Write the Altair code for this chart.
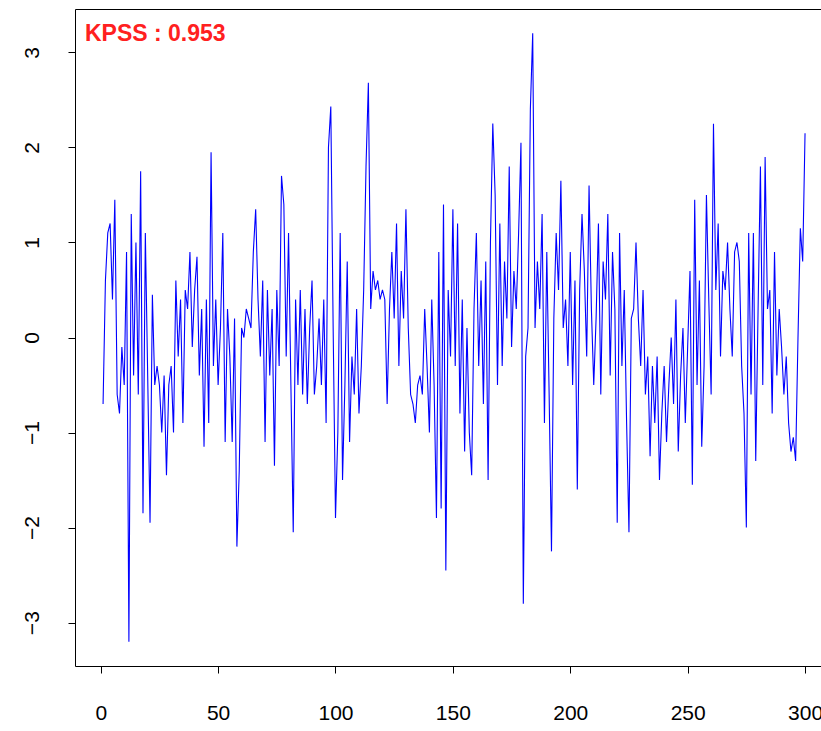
import altair as alt
import pandas as pd

values = [
    -0.7, 0.6, 1.1, 1.2, 0.4, 1.45, -0.6, -0.8, -0.1, -0.5,
    0.9, -3.2, 1.3, -0.4, 1.0, -0.6, 1.75, -1.85, 1.1, -0.4,
    -1.95, 0.45, -0.5, -0.3, -0.5, -1.0, -0.4, -1.45, -0.5, -0.3,
    -1.0, 0.6, -0.2, 0.4, -0.9, 0.5, 0.3, 0.9, -0.1, 0.5,
    0.85, -0.4, 0.3, -1.15, 0.4, -0.9, 1.95, -0.3, 0.4, -0.5,
    0.1, 1.1, -1.1, 0.3, -0.2, -1.1, 0.2, -2.2, -1.4, 0.1,
    0.0, 0.3, 0.2, 0.1, 0.9, 1.35, 0.4, -0.2, 0.6, -1.1,
    0.5, -0.4, 0.3, -1.35, 0.5, -0.3, 1.7, 1.4, -0.2, 1.1,
    -0.5, -2.05, 0.4, -0.5, 0.5, -0.6, 0.3, -0.7, 0.1, 0.6,
    -0.6, -0.3, 0.2, -0.5, 0.4, -0.9, 2.0, 2.43, 0.1, -1.9,
    -1.0, 1.1, -1.5, -0.5, 0.8, -1.1, -0.2, -0.6, 0.3, -0.8,
    -0.3, 0.5, 1.8, 2.68, 0.3, 0.7, 0.5, 0.6, 0.4, 0.5,
    0.4, -0.7, 0.3, 0.9, 0.2, 1.2, -0.3, 0.7, 0.2, 1.35,
    0.1, -0.6, -0.7, -0.9, -0.5, -0.4, -0.6, 0.3, -0.3, -1.0,
    0.4, -0.5, -1.9, 0.9, -1.8, 1.4, -2.45, 0.5, -0.2, 1.35,
    -0.3, 1.2, -0.8, 0.4, -1.2, 0.1, -1.0, -1.45, 0.3, 1.1,
    -0.3, 0.6, -0.7, 0.8, -1.5, 1.0, 2.25, 1.5, -0.5, 1.2,
    -0.3, 0.8, 0.2, 1.8, -0.1, 0.7, 0.3, 1.1, 2.05, -2.8,
    -0.2, 0.1, 2.4, 3.2, 0.1, 0.8, 0.3, 1.3, -0.9, 0.9,
    -0.6, -2.25, 0.2, 1.1, 0.5, 1.65, 0.1, 0.4, -0.3, 0.9,
    -0.5, 0.6, -1.6, 0.5, 1.3, 0.7, -0.2, 1.6, 0.3, -0.5,
    0.2, 1.2, -0.6, 0.8, 0.4, 1.3, -0.4, 0.9, 0.3, -1.95,
    1.1, -0.3, 0.5, -0.9, -2.05, 0.2, 0.3, 1.0, 0.2, -0.3,
    0.5, -0.6, -0.2, -1.25, -0.3, -0.9, -0.2, -1.5, -0.8, -0.3,
    -1.1, -0.5, 0.0, -0.7, 0.4, -1.2, -0.4, 0.1, -0.9, -0.1,
    0.7, -1.55, 1.45, -0.5, 0.6, -1.15, -0.3, 1.5, 0.4, -0.6,
    2.25, 0.5, 1.2, -0.2, 0.7, 0.5, 1.0, 0.3, -0.2, 0.9,
    1.0, 0.8, -0.3, -0.8, -2.0, 1.1, -0.6, 1.1, -1.3, 0.3,
    1.8, -0.5, 1.9, 0.3, 0.5, -0.8, 0.9, -0.4, 0.3, -0.1,
    -0.6, -0.2, -0.9, -1.2, -1.05, -1.3, 0.0, 1.15, 0.8, 2.15,
]
index = list(range(1, len(values) + 1))
x_ticks = [0, 50, 100, 150, 200, 250, 300]
y_ticks = [-3, -2, -1, 0, 1, 2, 3]
annotation = "KPSS : 0.953"

df = pd.DataFrame({"t": index, "v": values})

FONT = "Liberation Sans"

line = alt.Chart(df).mark_line(color="#0000ff", strokeWidth=1.1, clip=True).encode(
    x=alt.X("t:Q", scale=alt.Scale(domain=[-10.96, 306.8], nice=False, zero=False),
            axis=alt.Axis(values=x_ticks, title=None, grid=False, domain=False,
                          tickSize=7, tickColor="black", labelColor="black",
                          labelFont=FONT, labelFontSize=21, labelPadding=29,
                          labelFlush=False, labelOverlap=False)),
    y=alt.Y("v:Q", scale=alt.Scale(domain=[-3.456, 3.456], nice=False, zero=False),
            axis=alt.Axis(values=y_ticks, title=None, grid=False, domain=False,
                          tickSize=7, tickColor="black", labelColor="black",
                          labelFont=FONT, labelFontSize=21, labelPadding=26,
                          labelAngle=270, labelAlign="center", labelBaseline="bottom",
                          labelFlush=False, labelOverlap=False)),
)

label = alt.Chart(pd.DataFrame({"txt": [annotation]})).mark_text(
    color="#ff2020", fontWeight="bold", font=FONT, fontSize=23, align="left", baseline="middle"
).encode(x=alt.value(10), y=alt.value(25), text="txt:N")

chart = alt.layer(line, label).properties(
    width=746, height=657,
    padding={"left": 75, "top": 9, "right": 0, "bottom": 65},
    autosize=alt.AutoSizeParams(type="none"),
    background="white",
).configure_view(stroke="black", strokeWidth=1)

chart.save("out.html", embed_options={"renderer": "svg", "actions": False})
